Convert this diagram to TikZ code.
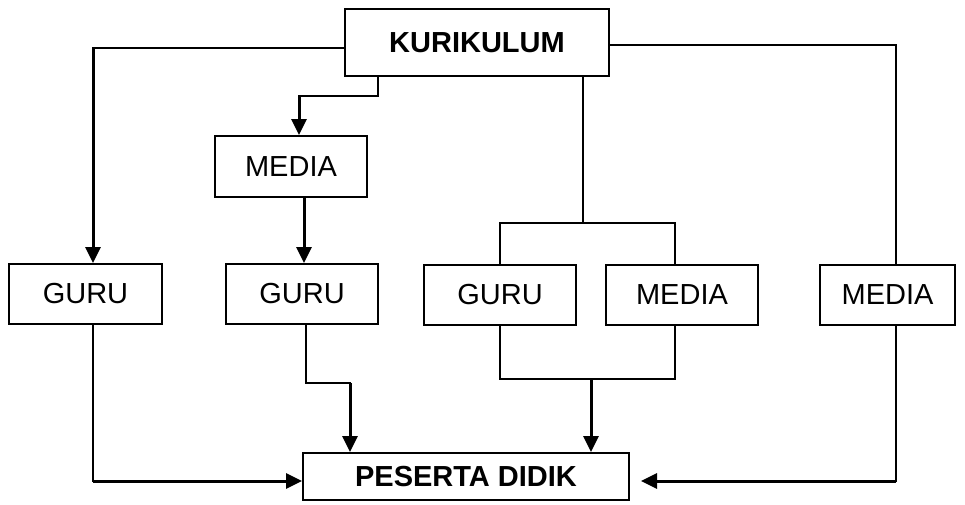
\documentclass[tikz,border=0pt]{standalone}
\usepackage{fontspec}
\setmainfont{Liberation Sans}
\usetikzlibrary{arrows.meta}
\begin{document}
\begin{tikzpicture}[x=1pt,y=-1pt,
  box/.style={draw=black,line width=2pt,minimum height=60pt,inner sep=0pt,
    font=\fontsize{29}{34}\selectfont},
  bbox/.style={box,font=\fontsize{29}{34}\selectfont\bfseries},
  thin/.style={line width=2pt,line cap=rect},
  thick arrow/.style={line width=3pt,-{Triangle[length=16pt,width=15pt]}}]
\useasboundingbox (0,0) rectangle (965,504);
\node[bbox,minimum width=264pt,minimum height=67pt] (kur) at (477,42.5) {KURIKULUM};
\node[box,minimum width=152pt,minimum height=61pt] (media1) at (291,166.5) {MEDIA};
\node[box,minimum width=153pt] (guru1) at (85.5,294) {GURU};
\node[box,minimum width=152pt] (guru2) at (302,294) {GURU};
\node[box,minimum width=152pt] (guru3) at (500,295) {GURU};
\node[box,minimum width=152pt] (media2) at (682,295) {MEDIA};
\node[box,minimum width=135pt] (media3) at (887.5,295) {MEDIA};
\node[bbox,minimum width=326pt,minimum height=47pt] (pes) at (466,476.5) {PESERTA DIDIK};
% KURIKULUM -> GURU 1
\coordinate (c1) at (93,48);
\draw[thin] (kur.west |- c1) -- (c1);
\draw[thick arrow] (c1) -- (c1 |- guru1.north);
% KURIKULUM -> MEDIA 3
\coordinate (c2) at (896,45);
\draw[thin] (kur.east |- c2) -- (c2) -- (c2 |- media3.north);
% KURIKULUM -> MEDIA 1
\coordinate (c3) at (378,96);
\coordinate (c4) at (299,96);
\draw[thin] (c3 |- kur.south) -- (c3) -- (c4);
\draw[thick arrow] (c4) -- (c4 |- media1.north);
% MEDIA 1 -> GURU 2
\coordinate (c5) at (304,0);
\draw[thick arrow] (c5 |- media1.south) -- (c5 |- guru2.north);
% KURIKULUM -> GURU 3 + MEDIA 2
\coordinate (c6) at (583,223);
\coordinate (c7) at (500,223);
\coordinate (c8) at (675,223);
\draw[thin] (c6 |- kur.south) -- (c6);
\draw[thin] (c7 |- guru3.north) -- (c7) -- (c8) -- (c8 |- media2.north);
% GURU 3 + MEDIA 2 -> PESERTA
\coordinate (c9) at (500,379);
\coordinate (c10) at (675,379);
\coordinate (c11) at (591,379);
\draw[thin] (c9 |- guru3.south) -- (c9) -- (c10) -- (c10 |- media2.south);
\draw[thick arrow] (c11) -- (c11 |- pes.north);
% GURU 2 -> PESERTA
\coordinate (c12) at (306,383);
\coordinate (c13) at (350,383);
\draw[thin] (c12 |- guru2.south) -- (c12) -- (c13);
\draw[thick arrow] (c13) -- (c13 |- pes.north);
% GURU 1 -> PESERTA
\coordinate (c14) at (93,481);
\draw[thin] (c14 |- guru1.south) -- (c14);
\draw[thick arrow] (c14) -- (pes.west |- c14);
% MEDIA 3 -> PESERTA
\coordinate (c15) at (896,481);
\draw[thin] (c15 |- media3.south) -- (c15);
\draw[thick arrow,shorten >=11pt] (c15) -- (pes.east |- c15);
\end{tikzpicture}
\end{document}
